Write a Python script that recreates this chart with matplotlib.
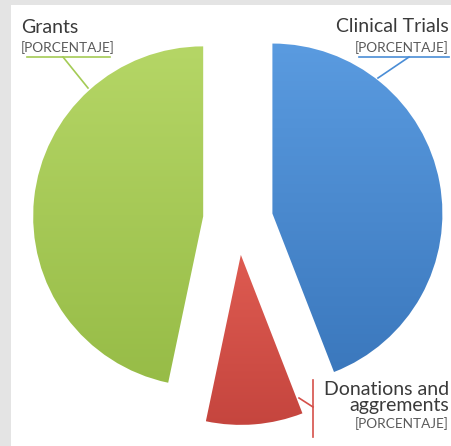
import numpy as np
import matplotlib.pyplot as plt
from matplotlib.patches import Rectangle
from matplotlib.colors import LinearSegmentedColormap

# data
labels = ['Clinical Trials', 'Donations and', 'Grants']
shares = [44.1, 9.2, 46.7]
colors = ['#4a8dd6', '#d5504a', '#a4cb55']
top_colors = ['#5a9be0', '#de5b51', '#b5d666']
bottom_colors = ['#3b78bd', '#c5453e', '#97bc47']
pct_text = '[PORCENTAJE]'

plt.rcParams['font.family'] = ['Lato', 'DejaVu Sans']

fig = plt.figure(figsize=(4.52, 4.46), dpi=100, facecolor='#e4e4e4')
# white chart area inside the gray frame
fig.patches.append(Rectangle((11 / 452, 0), 1, 441 / 446, transform=fig.transFigure,
                             facecolor='white', edgecolor='none', zorder=-10))

ax = fig.add_axes([0, 0, 1, 1])
ax.patch.set_alpha(0)

wedges, _ = ax.pie(shares, colors=colors, startangle=90, counterclock=False,
                   center=(238, 226), radius=170, explode=[35, 35, 35],
                   wedgeprops=dict(linewidth=0), frame=True)

# vertical gradient inside each slice (lighter at the top)
grad = np.linspace(0, 1, 256).reshape(-1, 1)
for w, c_top, c_bot in zip(wedges, top_colors, bottom_colors):
    verts = w.get_patch_transform().transform(w.get_path().vertices)
    x0, y0 = verts.min(axis=0)
    x1, y1 = verts.max(axis=0)
    cmap = LinearSegmentedColormap.from_list('g', [c_bot, c_top])
    im = ax.imshow(grad, cmap=cmap, extent=[x0, x1, y0, y1], aspect='auto',
                   origin='lower', zorder=1.5)
    im.set_clip_path(w)
    w.set_facecolor('none')

ax.set_xlim(0, 452)
ax.set_ylim(0, 446)
ax.set_aspect('equal')
ax.axis('off')

txt = '#3a3a3a'
sub = '#5a5a5a'

# Grants label
ax.text(21, 413, 'Grants', fontsize=14, color=txt, ha='left', va='baseline')
ax.text(21, 394, pct_text, fontsize=9.8, color=sub, ha='left', va='baseline')
ax.plot([27, 110], [389, 389], color=colors[2], lw=1.2)
ax.plot([63, 88], [389, 358], color=colors[2], lw=1.2)

# Clinical Trials label
ax.text(449, 414, 'Clinical Trials', fontsize=14, color=txt, ha='right', va='baseline')
ax.text(449, 394, pct_text, fontsize=9.8, color=sub, ha='right', va='baseline')
ax.plot([359, 449], [389, 389], color=colors[0], lw=1.2)
ax.plot([409, 378], [389, 368], color=colors[0], lw=1.2)

# Donations label
ax.text(449, 51, labels[1], fontsize=14, color=txt, ha='right', va='baseline')
ax.text(449, 35, 'aggrements', fontsize=14, color=txt, ha='right', va='baseline')
ax.text(449, 18, pct_text, fontsize=9.8, color=sub, ha='right', va='baseline')
ax.plot([313, 313], [66, 9], color=colors[1], lw=1.2)
ax.plot([313, 299], [39, 48], color=colors[1], lw=1.2)

fig.savefig('out.png', dpi=100, facecolor=fig.get_facecolor())
